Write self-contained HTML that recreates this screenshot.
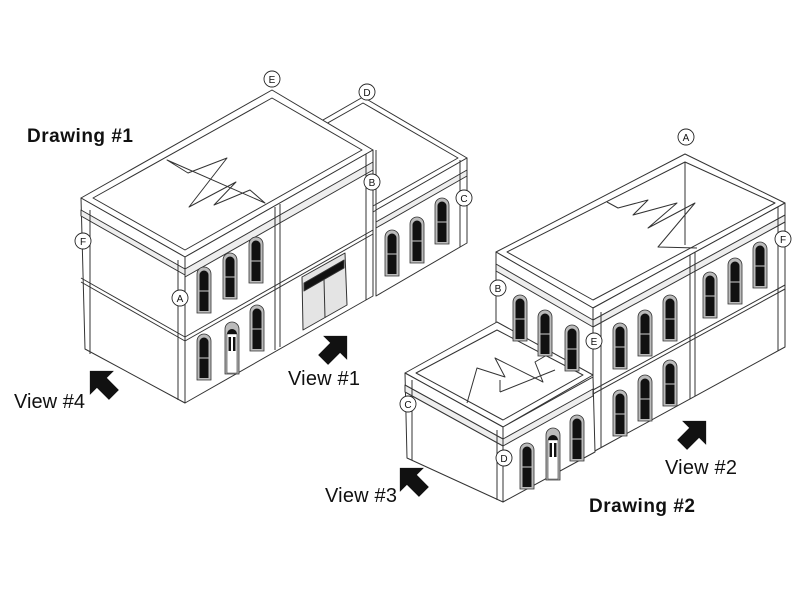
<!DOCTYPE html>
<html><head><meta charset="utf-8"><style>
html,body{margin:0;padding:0;background:#fff;}
svg{display:block;}
text{font-family:"Liberation Sans",sans-serif;fill:#111;}
</style></head><body>
<svg width="800" height="600" viewBox="0 0 800 600" xmlns="http://www.w3.org/2000/svg">
<defs>
<g id="w">
<path d="M-7,46 V7 A7,7 0 0 1 7,7 V46 Z" fill="#bbb" stroke="#333" stroke-width="0.8"/>
<path d="M-4.5,44 V8 A4.5,4.5 0 0 1 4.5,8 V44 Z" fill="#111"/>
<line x1="-4.5" y1="24" x2="4.5" y2="24" stroke="#fff" stroke-width="0.8"/>
</g>
<g id="d">
<path d="M-7,52 V7 A7,7 0 0 1 7,7 V52 Z" fill="#bbb" stroke="#333" stroke-width="0.8"/>
<path d="M-5,51 V12 H5 V51 Z" fill="#fff" stroke="#333" stroke-width="0.6"/>
<path d="M-5,12 A5,5 0 0 1 5,12 Z" fill="#111"/>
<rect x="-3.5" y="15" width="2.5" height="14" fill="#111"/>
<rect x="1" y="15" width="2.5" height="14" fill="#111"/>
</g>
<g id="ar"><polygon points="0,-20 17,-3 7,-3 7,14 -7,14 -7,-3 -17,-3" fill="#111"/></g>
</defs>
<g fill="#fff" stroke="#333" stroke-width="1" stroke-linejoin="round">
<polygon points="363,97 467,158 373,212 269,151"/>
<polygon points="363,103 458,158 373,206 278,151" fill="none"/>
<polygon points="272,90 373,150 185,257 81,198"/>
<polygon points="272,98 362,150 185,250 93,198" fill="none"/>
<polygon points="167,160 188,173 227,158 189,207 236,182 214,205 250,190 265,203"/>
<polygon points="81,198 185,257 185,403 85,349"/>
<polygon points="81,210 185,269 185,275 81,216" fill="#eee"/>
<line x1="81" y1="278" x2="185" y2="337"/><line x1="81" y1="282" x2="185" y2="341"/>
<line x1="90" y1="210" x2="90" y2="354"/>
<polygon points="185,257 373,150 373,296 185,403"/>
<polygon points="185,269 373,162 373,170 185,277" fill="#eee"/>
<line x1="185" y1="337" x2="373" y2="230"/><line x1="185" y1="341" x2="373" y2="234"/>
<line x1="178" y1="260" x2="178" y2="400"/>
<line x1="275" y1="207" x2="275" y2="350"/><line x1="280" y1="204" x2="280" y2="347"/>
<line x1="366" y1="154" x2="366" y2="300"/><line x1="376" y1="150" x2="376" y2="296"/>
<polygon points="302,277 345,253 347,305 303,330" fill="#e4e4e4"/>
<polygon points="304,283 344,260 344,268 304,291" fill="#111"/>
<line x1="324" y1="279" x2="325" y2="318"/>
<polygon points="376,210 467,158 467,243 376,296"/>
<polygon points="376,222 467,170 467,176 376,228" fill="#eee"/>
<line x1="460" y1="160" x2="460" y2="247"/>
</g>
<use href="#w" x="204" y="267"/><use href="#w" x="230" y="253"/><use href="#w" x="256" y="237"/>
<use href="#w" x="204" y="334"/><use href="#d" x="232" y="322"/><use href="#w" x="257" y="305"/>
<use href="#w" x="392" y="230"/><use href="#w" x="417" y="217"/><use href="#w" x="442" y="198"/>

<g fill="#fff" stroke="#333" stroke-width="1" stroke-linejoin="round">
<polygon points="685,154 785,203 593,308 496,252"/>
<polygon points="685,162 775,203 593,300 507,252" fill="none"/>
<line x1="685" y1="162" x2="685" y2="245"/>
<polyline fill="none" points="607,202 618,208 648,200 633,215 677,203 648,228 695,203 658,247 697,248"/>
<polygon points="496,252 593,308 593,450 496,395"/>
<polygon points="496,264 593,320 593,327 496,271" fill="#eee"/>
<polygon points="593,308 785,203 785,347 593,452"/>
<polygon points="593,320 785,215 785,222 593,327" fill="#eee"/>
<line x1="593" y1="390" x2="785" y2="285"/><line x1="593" y1="394" x2="785" y2="289"/>
<line x1="690" y1="255" x2="690" y2="399"/><line x1="695" y1="252" x2="695" y2="396"/>
<line x1="601" y1="312" x2="601" y2="448"/><line x1="778" y1="207" x2="778" y2="351"/>
<polygon points="497,322 593,375 503,427 405,373"/>
<polygon points="497,330 583,375 503,420 416,373" fill="none"/>
<polyline fill="none" points="467,403 477,368 505,377 495,358 543,382 535,362 547,355"/>
<line x1="500" y1="392" x2="555" y2="370"/><line x1="500" y1="392" x2="500" y2="380"/>
<polygon points="405,373 503,427 503,502 407,458"/>
<polygon points="405,385 503,439 503,446 405,392" fill="#eee"/>
<line x1="412" y1="380" x2="412" y2="460"/>
<polygon points="503,427 593,377 595,452 503,502"/>
<polygon points="503,439 593,389 593,396 503,446" fill="#eee"/>
<line x1="497" y1="430" x2="497" y2="500"/>
</g>
<use href="#w" x="520" y="295"/><use href="#w" x="545" y="310"/><use href="#w" x="572" y="325"/>
<use href="#w" x="620" y="323"/><use href="#w" x="645" y="310"/><use href="#w" x="670" y="295"/>
<use href="#w" x="620" y="390"/><use href="#w" x="645" y="375"/><use href="#w" x="670" y="360"/>
<use href="#w" x="710" y="272"/><use href="#w" x="735" y="258"/><use href="#w" x="760" y="242"/>
<use href="#w" x="527" y="443"/><use href="#d" x="553" y="428"/><use href="#w" x="577" y="415"/>

<use href="#ar" transform="translate(333,350) rotate(45)"/>
<use href="#ar" transform="translate(104,385) rotate(-45)"/>
<use href="#ar" transform="translate(414,482) rotate(-45)"/>
<use href="#ar" transform="translate(692,435) rotate(45)"/>

<g fill="#fff" stroke="#222" stroke-width="0.9">
<circle cx="272" cy="79" r="8"/><circle cx="367" cy="92" r="8"/><circle cx="372" cy="182" r="8"/>
<circle cx="464" cy="198" r="8"/><circle cx="83" cy="241" r="8"/><circle cx="180" cy="298" r="8"/>
<circle cx="686" cy="137" r="8"/><circle cx="498" cy="288" r="8"/><circle cx="408" cy="404" r="8"/>
<circle cx="504" cy="458" r="8"/><circle cx="594" cy="341" r="8"/><circle cx="783" cy="239" r="8"/>
</g>
<g font-size="10" text-anchor="middle">
<text x="272" y="83">E</text><text x="367" y="96">D</text><text x="372" y="186">B</text>
<text x="464" y="202">C</text><text x="83" y="245">F</text><text x="180" y="302">A</text>
<text x="686" y="141">A</text><text x="498" y="292">B</text><text x="408" y="408">C</text>
<text x="504" y="462">D</text><text x="594" y="345">E</text><text x="783" y="243">F</text>
</g>
<text x="27" y="142" font-size="19" font-weight="bold" textLength="106">Drawing #1</text>
<text x="589" y="512" font-size="19" font-weight="bold" textLength="106">Drawing #2</text>
<text x="288" y="385" font-size="20" textLength="72">View #1</text>
<text x="14" y="408" font-size="20" textLength="71">View #4</text>
<text x="325" y="502" font-size="20" textLength="72">View #3</text>
<text x="665" y="474" font-size="20" textLength="72">View #2</text>
</svg>
</body></html>
